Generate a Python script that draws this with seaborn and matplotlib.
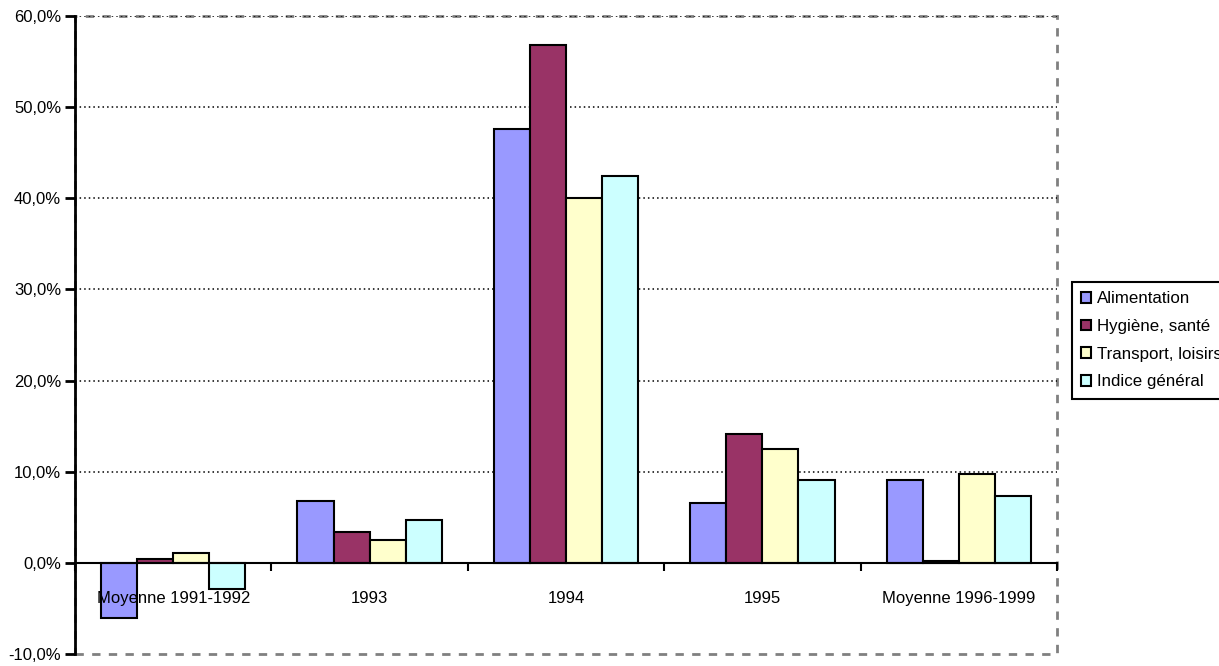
import matplotlib
matplotlib.use("Agg")
import matplotlib.pyplot as plt
import matplotlib.patches as mpatches
import numpy as np
import pandas as pd
import seaborn as sns

# %% data
periodes = ["Moyenne 1991-1992", "1993", "1994", "1995", "Moyenne 1996-1999"]
series = ["Alimentation", "Hygiène, santé", "Transport, loisirs", "Indice général"]
alimentation = [-6.0, 6.8, 47.6, 6.6, 9.1]
hygiene = [0.4, 3.4, 56.8, 14.1, 0.2]
transport = [1.1, 2.5, 40.0, 12.5, 9.7]
indice = [-2.9, 4.7, 42.5, 9.1, 7.3]
couleurs = ["#9999FF", "#993366", "#FFFFCC", "#CCFFFF"]
yticks = [-10, 0, 10, 20, 30, 40, 50, 60]
ytick_labels = ["-10,0%", "0,0%", "10,0%", "20,0%", "30,0%", "40,0%", "50,0%", "60,0%"]

df = pd.DataFrame({
    "periode": np.repeat(periodes, len(series)),
    "serie": series * len(periodes),
    "valeur": np.column_stack([alimentation, hygiene, transport, indice]).ravel(),
})

sns.set_style("white")
plt.rcParams["font.family"] = ["Liberation Sans", "DejaVu Sans"]
plt.rcParams["text.color"] = "black"
plt.rcParams["xtick.color"] = "black"
plt.rcParams["ytick.color"] = "black"

fig = plt.figure(figsize=(12.19, 6.66), dpi=100)
ax = fig.add_axes([75 / 1219, 1 - 654 / 666, (1057 - 75) / 1219, (654 - 16) / 666])

sns.barplot(
    data=df, x="periode", y="valeur", hue="serie",
    order=periodes, hue_order=series, palette=couleurs, saturation=1,
    width=0.735, gap=0, edgecolor="black", linewidth=1.5,
    errorbar=None, ax=ax, zorder=2,
)
# category labels are drawn over the bars, as in the original
ax.set_axisbelow(False)

ax.set_ylim(-10, 60)
ax.set_xlim(-0.5, len(periodes) - 0.5)
ax.set_yticks(yticks)
ax.set_yticklabels(ytick_labels, fontsize=12)
ax.set_xlabel("")
ax.set_ylabel("")

# dotted gridlines
for v in yticks[2:]:
    ax.axhline(v, color="black", linestyle=(0, (1, 2)), linewidth=1.1, zorder=1)

# dashed outer frame
for s in ["top", "right"]:
    ax.spines[s].set_visible(False)
frame = mpatches.Rectangle((0, 0), 1, 1, transform=ax.transAxes, fill=False,
                           edgecolor="#808080", linestyle=(0, (3, 3)),
                           linewidth=2, clip_on=False, zorder=0)
ax.add_patch(frame)

ax.spines["left"].set_color("black")
ax.spines["left"].set_linewidth(2)
ax.tick_params(axis="y", direction="out", length=7, width=2, color="black", left=True, pad=3)

# category axis on the zero line
ax.spines["bottom"].set_position(("data", 0))
ax.spines["bottom"].set_color("black")
ax.spines["bottom"].set_linewidth(1.5)
ax.set_xticks(np.arange(-0.5, len(periodes)), minor=True)
ax.tick_params(axis="x", which="minor", direction="out", length=6, width=1.5, color="black", bottom=True)
ax.tick_params(axis="x", which="major", length=0, pad=20, labelsize=12)

sns.move_legend(
    ax, loc="upper left", bbox_to_anchor=(1072 / 1219, 1 - 282 / 666),
    bbox_transform=fig.transFigure, title=None, fontsize=12.2,
    frameon=True, fancybox=False, edgecolor="black", framealpha=1,
    handlelength=0.6, handleheight=0.6, handletextpad=0.3,
    labelspacing=0.75, borderpad=0.55, borderaxespad=0,
)
ax.get_legend().get_frame().set_linewidth(1.5)

fig.savefig("out.png", dpi=100)
